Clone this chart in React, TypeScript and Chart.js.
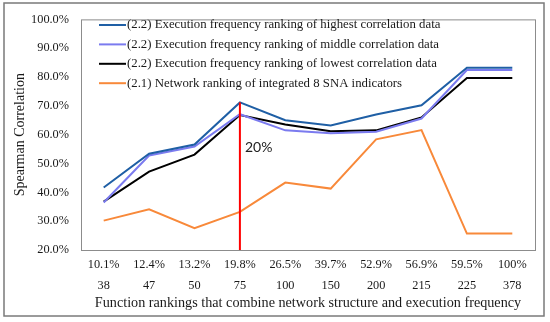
import React, { useEffect, useRef } from "react";
import { Chart, registerables } from "chart.js";

Chart.register(...registerables);

const pctLabels = ["10.1%", "12.4%", "13.2%", "19.8%", "26.5%", "39.7%", "52.9%", "56.9%", "59.5%", "100%"];
const countLabels = ["38", "47", "50", "75", "100", "150", "200", "215", "225", "378"];

const highest = [41.7, 53.4, 56.6, 71.2, 65.0, 63.2, 67.0, 70.2, 83.2, 83.2];
const middle = [36.5, 52.8, 55.9, 67.1, 61.5, 60.5, 61.0, 65.6, 82.4, 82.4];
const lowest = [36.8, 47.2, 53.1, 66.8, 63.5, 61.2, 61.5, 66.0, 79.7, 79.7];
const network = [30.2, 34.1, 27.6, 33.2, 43.4, 41.3, 58.4, 61.6, 25.7, 25.7];

const seriesNames = [
  "(2.2) Execution frequency ranking of highest correlation data",
  "(2.2) Execution frequency ranking of middle correlation data",
  "(2.2) Execution frequency ranking of lowest correlation data",
  "(2.1) Network ranking of integrated 8 SNA indicators",
];
const seriesColors = ["#1F5FA5", "#7B7BEF", "#000000", "#F8893A"];

const markerIndex = 3;
const markerTop = 71.2;
const markerText = "20%";

const SERIF = "'Liberation Serif', 'Times New Roman', serif";

const decorPlugin = {
  id: "decor",
  beforeDraw(chart: any) {
    const { ctx, width, height } = chart;
    ctx.save();
    ctx.fillStyle = "#ffffff";
    ctx.fillRect(0, 0, width, height);
    ctx.restore();
  },
  afterDatasetsDraw(chart: any) {
    const { ctx, chartArea: a, scales } = chart;
    ctx.save();
    // plot border
    ctx.strokeStyle = "#8c8c8c";
    ctx.lineWidth = 1;
    ctx.strokeRect(a.left + 0.5, a.top + 0.5, a.right - a.left, a.bottom - a.top);
    // outer border
    ctx.strokeStyle = "#7a7a7a";
    ctx.lineWidth = 1.5;
    ctx.strokeRect(4, 3, 540, 313);
    // red marker
    const x = scales.x.getPixelForValue(markerIndex);
    ctx.strokeStyle = "#FF0000";
    ctx.lineWidth = 2;
    ctx.beginPath();
    ctx.moveTo(x, a.bottom);
    ctx.lineTo(x, scales.y.getPixelForValue(markerTop));
    ctx.stroke();
    ctx.fillStyle = "#222";
    ctx.font = "14px Lato, 'Noto Sans', sans-serif";
    ctx.textAlign = "left";
    ctx.textBaseline = "middle";
    ctx.fillText(markerText, x + 5, 147);
    // legend
    ctx.font = "12.8px " + SERIF;
    chart.data.datasets.forEach((ds: any, i: number) => {
      const y = 25 + i * 19.4;
      ctx.strokeStyle = ds.borderColor;
      ctx.lineWidth = 2;
      ctx.beginPath();
      ctx.moveTo(99, y);
      ctx.lineTo(126, y);
      ctx.stroke();
      ctx.fillStyle = "#1a1a1a";
      ctx.fillText(ds.label, 127, y);
    });
    ctx.restore();
  },
};

export default function App() {
  const ref = useRef<HTMLCanvasElement>(null);
  useEffect(() => {
    const data = [highest, middle, lowest, network];
    const chart = new Chart(ref.current!, {
      type: "line",
      data: {
        labels: pctLabels.map((p, i) => [p, countLabels[i]]),
        datasets: data.map((d, i) => ({
          label: seriesNames[i],
          data: d,
          borderColor: seriesColors[i],
          backgroundColor: seriesColors[i],
          borderWidth: 2,
          pointRadius: 0,
          tension: 0,
          fill: false,
        })),
      },
      options: {
        animation: false,
        responsive: false,
        layout: { padding: { top: 17, right: 15, left: 0, bottom: 0 } },
        plugins: { legend: { display: false }, tooltip: { enabled: false } },
        scales: {
          x: {
            offset: true,
            grid: { display: false, drawTicks: false },
            border: { display: false },
            ticks: {
              color: "#1a1a1a",
              font: { family: SERIF, size: 12.3, lineHeight: 1.72 },
              padding: 4,
              maxRotation: 0,
              autoSkip: false,
            },
            title: {
              display: true,
              text: "Function rankings that combine network structure and execution frequency",
              color: "#1a1a1a",
              font: { family: SERIF, size: 14.2 },
              padding: { top: 0, bottom: 10.5 },
            },
            afterFit(s: any) {
              s.height = 72;
            },
          },
          y: {
            min: 20,
            max: 100,
            grid: { display: false, drawTicks: false },
            border: { display: false },
            ticks: {
              stepSize: 10,
              color: "#1a1a1a",
              font: { family: SERIF, size: 12.3 },
              padding: 12,
              callback: (v: any) => Number(v).toFixed(1) + "%",
            },
            title: {
              display: true,
              text: "Spearman Correlation",
              color: "#1a1a1a",
              font: { family: SERIF, size: 14 },
              padding: { top: 11.5, bottom: 0 },
            },
            afterFit(s: any) {
              s.width = 81;
            },
          },
        },
      },
      plugins: [decorPlugin],
    });
    return () => chart.destroy();
  }, []);
  return (
    <div style={{ position: "fixed", left: 0, top: 0, width: 550, height: 322 }}>
      <canvas ref={ref} width={550} height={322} style={{ display: "block" }} />
    </div>
  );
}
